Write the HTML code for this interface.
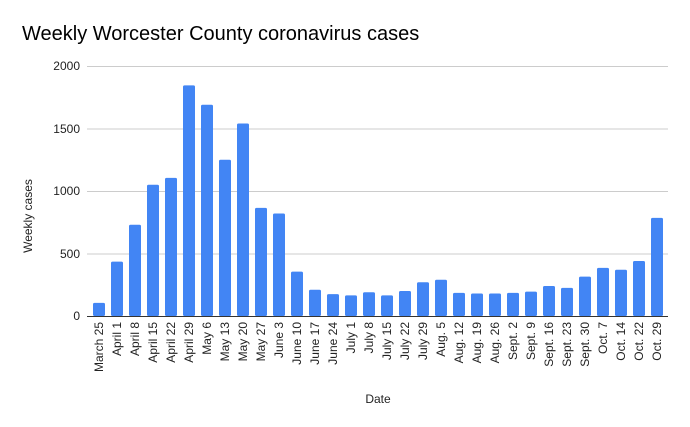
<!DOCTYPE html>
<html><head><style>body{margin:0;background:#fff}svg{display:block}</style></head><body>
<svg width="690" height="427" xmlns="http://www.w3.org/2000/svg" font-family="Liberation Sans, Arial, sans-serif">
<rect width="690" height="427" fill="#fff"/>
<text x="22" y="40" font-size="20" fill="#000">Weekly Worcester County coronavirus cases</text>
<g stroke="#ccc" stroke-width="1">
<line x1="87" x2="668" y1="66.5" y2="66.5"/><line x1="87" x2="668" y1="129" y2="129"/><line x1="87" x2="668" y1="191.5" y2="191.5"/><line x1="87" x2="668" y1="254" y2="254"/>
</g>
<g font-size="12" fill="#222" text-anchor="end">
<text x="80" y="70">2000</text><text x="80" y="133">1500</text><text x="80" y="195">1000</text><text x="80" y="258">500</text><text x="80" y="320">0</text>
</g>
<text transform="translate(32,216) rotate(-90)" font-size="12" text-anchor="middle" fill="#222">Weekly cases</text>
<text x="378" y="403" font-size="12" text-anchor="middle" fill="#222">Date</text>
<g fill="#4285f4">
<rect x="93" y="302.9" width="12" height="13.1" rx="1.5"/>
<rect x="111" y="261.6" width="12" height="54.4" rx="1.5"/>
<rect x="129" y="224.75" width="12" height="91.25" rx="1.5"/>
<rect x="147" y="184.75" width="12" height="131.25" rx="1.5"/>
<rect x="165" y="177.9" width="12" height="138.1" rx="1.5"/>
<rect x="183" y="85.4" width="12" height="230.6" rx="1.5"/>
<rect x="201" y="104.75" width="12" height="211.25" rx="1.5"/>
<rect x="219" y="159.75" width="12" height="156.25" rx="1.5"/>
<rect x="237" y="123.5" width="12" height="192.5" rx="1.5"/>
<rect x="255" y="207.9" width="12" height="108.1" rx="1.5"/>
<rect x="273" y="213.5" width="12" height="102.5" rx="1.5"/>
<rect x="291" y="271.6" width="12" height="44.4" rx="1.5"/>
<rect x="309" y="289.75" width="12" height="26.25" rx="1.5"/>
<rect x="327" y="294.1" width="12" height="21.9" rx="1.5"/>
<rect x="345" y="295.4" width="12" height="20.6" rx="1.5"/>
<rect x="363" y="292.25" width="12" height="23.75" rx="1.5"/>
<rect x="381" y="295.4" width="12" height="20.6" rx="1.5"/>
<rect x="399" y="291" width="12" height="25" rx="1.5"/>
<rect x="417" y="282.25" width="12" height="33.75" rx="1.5"/>
<rect x="435" y="279.75" width="12" height="36.25" rx="1.5"/>
<rect x="453" y="292.9" width="12" height="23.1" rx="1.5"/>
<rect x="471" y="293.5" width="12" height="22.5" rx="1.5"/>
<rect x="489" y="293.5" width="12" height="22.5" rx="1.5"/>
<rect x="507" y="292.9" width="12" height="23.1" rx="1.5"/>
<rect x="525" y="291.6" width="12" height="24.4" rx="1.5"/>
<rect x="543" y="286" width="12" height="30" rx="1.5"/>
<rect x="561" y="287.9" width="12" height="28.1" rx="1.5"/>
<rect x="579" y="276.6" width="12" height="39.4" rx="1.5"/>
<rect x="597" y="267.9" width="12" height="48.1" rx="1.5"/>
<rect x="615" y="269.75" width="12" height="46.25" rx="1.5"/>
<rect x="633" y="261" width="12" height="55" rx="1.5"/>
<rect x="651" y="217.9" width="12" height="98.1" rx="1.5"/>
</g>
<line x1="87" x2="668" y1="316.5" y2="316.5" stroke="#333" stroke-width="1"/>
<g font-size="12" fill="#222" text-anchor="end">
<text transform="translate(103,322) rotate(-90)">March 25</text>
<text transform="translate(121,322) rotate(-90)">April 1</text>
<text transform="translate(139,322) rotate(-90)">April 8</text>
<text transform="translate(157,322) rotate(-90)">April 15</text>
<text transform="translate(175,322) rotate(-90)">April 22</text>
<text transform="translate(193,322) rotate(-90)">April 29</text>
<text transform="translate(211,322) rotate(-90)">May 6</text>
<text transform="translate(229,322) rotate(-90)">May 13</text>
<text transform="translate(247,322) rotate(-90)">May 20</text>
<text transform="translate(265,322) rotate(-90)">May 27</text>
<text transform="translate(283,322) rotate(-90)">June 3</text>
<text transform="translate(301,322) rotate(-90)">June 10</text>
<text transform="translate(319,322) rotate(-90)">June 17</text>
<text transform="translate(337,322) rotate(-90)">June 24</text>
<text transform="translate(355,322) rotate(-90)">July 1</text>
<text transform="translate(373,322) rotate(-90)">July 8</text>
<text transform="translate(391,322) rotate(-90)">July 15</text>
<text transform="translate(409,322) rotate(-90)">July 22</text>
<text transform="translate(427,322) rotate(-90)">July 29</text>
<text transform="translate(445,322) rotate(-90)">Aug. 5</text>
<text transform="translate(463,322) rotate(-90)">Aug. 12</text>
<text transform="translate(481,322) rotate(-90)">Aug. 19</text>
<text transform="translate(499,322) rotate(-90)">Aug. 26</text>
<text transform="translate(517,322) rotate(-90)">Sept. 2</text>
<text transform="translate(535,322) rotate(-90)">Sept. 9</text>
<text transform="translate(553,322) rotate(-90)">Sept. 16</text>
<text transform="translate(571,322) rotate(-90)">Sept. 23</text>
<text transform="translate(589,322) rotate(-90)">Sept. 30</text>
<text transform="translate(607,322) rotate(-90)">Oct. 7</text>
<text transform="translate(625,322) rotate(-90)">Oct. 14</text>
<text transform="translate(643,322) rotate(-90)">Oct. 22</text>
<text transform="translate(661,322) rotate(-90)">Oct. 29</text>
</g>
</svg>
</body></html>
